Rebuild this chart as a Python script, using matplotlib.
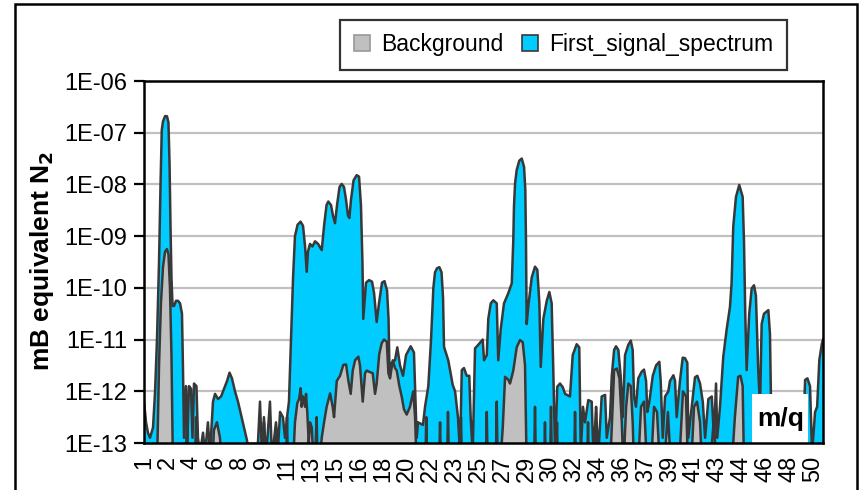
import matplotlib
matplotlib.use("Agg")
import matplotlib.pyplot as plt
from matplotlib.patches import Patch, Rectangle
import numpy as np

plt.rcParams["font.family"] = ["Liberation Sans", "DejaVu Sans"]

# m/q positions and log10 of signal (mB equivalent N2)
signal_mq = [1.00, 1.15, 1.29, 1.44, 1.66, 1.81, 1.95, 2.10, 2.21, 2.30, 2.39, 2.54, 2.68, 2.79, 2.87,
             2.94, 3.01, 3.09, 3.20, 3.34, 3.49, 3.64, 3.78, 3.85, 3.93, 4.07, 4.18, 4.29, 4.44, 4.55,
             4.66, 4.84, 4.95, 5.10, 5.32, 5.47, 5.68, 5.83, 6.05, 6.20, 6.42, 6.64, 6.86, 7.08, 7.26,
             7.44, 7.66, 7.88, 8.10, 8.32, 8.54, 8.69, 8.91, 9.20, 9.34, 9.49, 9.64, 9.78, 9.93, 10.22,
             10.37, 10.66, 10.81, 10.96, 11.17, 11.32, 11.47, 11.61, 11.76, 11.91, 12.05, 12.24, 12.46,
             12.64, 12.79, 12.91, 13.00, 13.15, 13.33, 13.52, 13.74, 14.01, 14.18, 14.36, 14.49, 14.69,
             14.83, 14.98, 15.13, 15.31, 15.47, 15.64, 15.79, 15.93, 16.03, 16.15, 16.34, 16.57, 16.74,
             16.88, 16.99, 17.05, 17.25, 17.47, 17.69, 17.84, 18.03, 18.20, 18.42, 18.60, 18.79, 18.90,
             18.97, 19.12, 19.37, 19.54, 19.74, 19.96, 20.18, 20.52, 20.76, 20.96, 21.06, 21.42, 21.57,
             21.81, 22.01, 22.18, 22.30, 22.45, 22.62, 22.78, 22.89, 22.96, 23.27, 23.60, 23.77, 23.98,
             24.13, 24.26, 24.42, 24.62, 24.81, 24.91, 25.06, 25.23, 25.47, 25.79, 25.89, 26.09, 26.20,
             26.38, 26.57, 26.82, 26.93, 27.11, 27.35, 27.67, 27.92, 28.03, 28.08, 28.16, 28.28, 28.47,
             28.65, 28.82, 28.91, 28.96, 29.01, 29.13, 29.38, 29.62, 29.79, 29.94, 30.04, 30.23, 30.48,
             30.67, 30.84, 30.96, 31.09, 31.25, 31.45, 31.65, 31.82, 32.18, 32.38, 32.67, 32.86, 32.97,
             33.13, 33.28, 33.52, 33.77, 33.89, 34.09, 34.26, 34.50, 34.75, 34.87, 35.11, 35.24, 35.41,
             35.55, 35.72, 35.89, 36.04, 36.21, 36.45, 36.63, 36.77, 36.87, 37.01, 37.18, 37.43, 37.60,
             37.75, 37.84, 37.99, 38.24, 38.48, 38.72, 38.82, 38.97, 39.14, 39.38, 39.50, 39.75, 39.87,
             39.99, 40.23, 40.43, 40.60, 40.77, 40.84, 41.09, 41.33, 41.50, 41.70, 41.90, 42.07, 42.31,
             42.56, 42.72, 42.87, 42.96, 43.16, 43.40, 43.65, 43.89, 44.01, 44.13, 44.33, 44.57, 44.82,
             44.92, 45.01, 45.11, 45.30, 45.48, 45.65, 45.79, 45.96, 46.09, 46.21, 46.38, 46.70, 46.82,
             46.95, 47.19, 49.17, 49.39, 49.56, 49.75, 49.90, 50.12, 50.27, 50.43, 50.61, 50.70]
signal_log = [-12.2, -12.6, -12.8, -12.9, -12.7, -12.0, -11.0, -9.5, -8.0, -6.95, -6.78, -6.68, -6.68, -6.8, -7.6,
              -8.8, -9.8, -10.35, -10.35, -10.25, -10.25, -10.3, -10.5, -11.5, -12.9, -11.9, -12.9, -11.9, -11.95, -12.9,
              -11.85, -11.9, -12.9, -13.2, -12.8, -13.2, -12.6, -13.2, -12.2, -12.05, -12.15, -12.1, -11.95, -11.8, -11.64,
              -11.75, -12.0, -12.2, -12.45, -12.7, -12.95, -13.3, -13.5, -13.5, -13.0, -12.2, -13.3, -12.5, -13.3, -12.2,
              -13.3, -12.6, -13.1, -12.4, -12.5, -12.9, -12.5, -12.2, -11.0, -9.8, -9.0, -8.78, -8.72,
              -8.8, -9.2, -9.69, -9.3, -9.15, -9.2, -9.1, -9.15, -9.27, -8.8, -8.4, -8.33, -8.4,
              -8.6, -8.75, -8.4, -8.05, -7.99, -8.05, -8.3, -8.6, -8.65, -8.3, -7.92, -7.82, -7.85,
              -8.4, -9.5, -10.6, -9.9, -9.85, -9.88, -10.1, -10.66, -10.3, -9.9, -9.87, -10.05, -10.6,
              -11.65, -11.45, -11.4, -11.15, -11.5, -11.7, -11.3, -11.13, -11.25, -12.9, -12.6, -12.65, -12.3,
              -11.9, -11.0, -10.0, -9.7, -9.62, -9.6, -9.7, -10.2, -11.14, -11.4, -11.88, -12.0, -12.5,
              -13.2, -11.59, -11.55, -11.7, -11.7, -12.5, -13.2, -11.17, -11.1, -11.0, -11.4, -11.3, -10.6,
              -10.3, -10.24, -10.3, -11.4, -10.8, -10.3, -10.1, -9.91, -9.08, -8.43, -7.98, -7.72, -7.54,
              -7.5, -7.66, -8.1, -9.1, -10.7, -10.35, -9.8, -9.59, -9.65, -10.3, -11.53, -10.6, -10.25,
              -10.08, -10.3, -11.6, -13.2, -11.91, -11.85, -11.92, -12.05, -12.1, -11.3, -11.09, -11.15, -13.2,
              -12.3, -12.6, -12.17, -12.2, -13.2, -12.4, -13.2, -12.1, -12.07, -12.9, -12.5, -11.7, -11.2,
              -11.13, -11.2, -11.7, -12.5, -11.3, -11.1, -11.02, -11.2, -12.1, -12.3, -11.75, -11.62, -11.58,
              -11.8, -12.4, -12.2, -11.7, -11.5, -11.43, -11.8, -12.9, -12.1, -12.0, -11.8, -11.69, -11.8,
              -12.5, -11.8, -11.35, -11.36, -11.45, -12.9, -12.3, -11.73, -11.7, -11.85, -12.2, -12.9, -12.15,
              -12.1, -12.9, -11.85, -12.9, -12.3, -11.33, -10.8, -10.37, -9.9, -8.82, -8.24, -8.01, -8.24,
              -9.13, -10.5, -11.59, -10.5, -10.01, -9.95, -10.15, -11.59, -12.3, -10.7, -10.5, -10.43, -10.9,
              -13.2, -13.5, -13.5, -11.78, -11.75, -11.9, -13.2, -12.4, -12.3, -11.4, -11.09, -11.0]

background_mq = [1.00, 1.95, 2.10, 2.24, 2.39, 2.54, 2.68, 2.79, 2.90, 3.01, 3.12,
                 4.07, 4.15, 4.22, 4.73, 4.81, 4.88, 5.98, 6.12, 6.34, 6.56, 6.71,
                 9.71, 9.78, 9.86, 10.59, 10.66, 10.74, 11.39, 11.47, 11.54,
                 11.93, 12.05, 12.22, 12.35, 12.47, 12.54, 12.64, 12.79, 12.86, 12.95, 13.06, 13.15,
                 13.28, 13.39, 13.52, 13.64, 13.70, 13.88, 14.01, 14.18, 14.37, 14.62, 14.81, 14.91,
                 15.11, 15.35, 15.59, 15.79, 15.96, 16.13, 16.28, 16.45, 16.69, 16.81, 17.01, 17.18,
                 17.30, 17.54, 17.74, 17.91, 18.03, 18.22, 18.40, 18.57, 18.77, 18.89, 19.01, 19.21,
                 19.37, 19.50, 19.69, 19.86, 20.03, 20.23, 20.47, 20.71, 20.84, 20.96,
                 21.59, 21.66, 21.73, 22.59, 22.67, 22.74, 23.18, 23.25, 23.33, 24.13, 24.20, 24.28,
                 26.02, 26.09, 26.16, 26.75, 26.82, 26.89,
                 27.06, 27.26, 27.43, 27.67, 27.79, 28.03, 28.28, 28.52, 28.72, 28.89, 29.01,
                 29.55, 29.62, 29.69, 30.28, 30.35, 30.42, 30.72, 30.79, 30.86, 31.16, 31.23, 31.30,
                 32.48, 32.55, 32.62, 33.43, 33.50, 33.57, 34.02, 34.09, 34.16,
                 35.11, 35.24, 35.41, 35.61, 35.80, 35.97, 36.09, 36.29, 36.45, 36.63, 36.77, 36.87,
                 37.16, 37.38, 37.60, 37.82, 38.11, 38.33, 38.55, 38.77, 39.06, 39.35, 39.57,
                 40.16, 40.45, 40.67, 40.82, 41.04, 41.26, 41.48, 41.70, 41.85, 42.43, 42.72, 42.87,
                 44.01, 44.25, 44.49, 44.66, 44.82, 44.92, 50.70]
background_log = [-13.5, -13.5, -11.5, -10.3, -9.6, -9.3, -9.25, -9.35, -10.0, -11.3, -13.5,
                  -13.5, -12.2, -13.5, -13.5, -12.5, -13.5, -13.5, -12.75, -12.6, -12.9, -13.5,
                  -13.5, -12.6, -13.5, -13.5, -12.7, -13.5, -13.5, -12.5, -13.5,
                  -13.3, -12.6, -12.23, -12.15, -11.94, -12.3, -12.1, -12.3, -12.05, -12.4, -13.0, -12.6,
                  -12.7, -13.3, -13.3, -12.5, -13.3, -13.3, -12.9, -12.6, -12.3, -12.04, -12.3, -12.5,
                  -11.8, -11.7, -11.49, -11.48, -11.8, -12.05, -11.6, -11.4, -11.33, -11.5, -12.2, -11.65,
                  -11.6, -11.63, -11.65, -12.05, -11.85, -11.28, -11.07, -11.0, -11.04, -11.65, -11.75, -11.4,
                  -11.55, -11.6, -11.9, -12.1, -12.35, -12.45, -12.3, -12.0, -12.5, -13.5,
                  -13.5, -12.5, -13.5, -13.5, -12.6, -13.5, -13.5, -12.4, -13.5, -13.5, -12.5, -13.5,
                  -13.5, -12.4, -13.5, -13.5, -12.2, -13.5,
                  -13.5, -12.7, -11.72, -11.78, -11.85, -11.6, -11.15, -11.01, -11.05, -11.5, -13.5,
                  -13.5, -12.3, -13.5, -13.5, -12.6, -13.5, -13.5, -12.3, -13.5, -13.5, -12.6, -13.5,
                  -13.5, -12.4, -13.5, -13.5, -12.6, -13.5, -13.5, -12.3, -13.5,
                  -13.5, -12.7, -11.59, -11.56, -11.75, -12.6, -13.5, -12.3, -11.85, -11.9, -12.6, -13.5,
                  -13.5, -12.3, -12.2, -13.5, -13.5, -12.3, -12.4, -13.5, -13.5, -12.4, -13.5,
                  -13.5, -12.0, -12.1, -13.5, -13.5, -12.3, -12.2, -12.6, -13.5, -13.5, -12.5, -13.5,
                  -13.5, -12.5, -11.72, -11.7, -11.9, -13.5, -13.5]

y_ticks = [1e-13, 1e-12, 1e-11, 1e-10, 1e-9, 1e-8, 1e-7, 1e-6]
y_labels = ["1E-13", "1E-12", "1E-11", "1E-10", "1E-09", "1E-08", "1E-07", "1E-06"]
x_ticks = [1 + 1.75 * k for k in range(29)]
x_labels = ["1", "2", "4", "6", "8", "9", "11", "13", "15", "16", "18", "20", "22", "23", "25",
            "27", "29", "30", "32", "34", "36", "37", "39", "41", "43", "44", "46", "48", "50"]

fig = plt.figure(figsize=(8.65, 4.9), dpi=100)
ax = fig.add_axes([144 / 865, 47 / 490, 679 / 865, 362 / 490])

line_col = "#383838"
blue = "#00CCFF"
grey = "#C0C0C0"

sig = 10 ** np.array(signal_log)
bg = 10 ** np.array(background_log)

ax.fill_between(signal_mq, sig, 1e-15, color=blue, lw=0, zorder=2)
ax.plot(signal_mq, sig, color=line_col, lw=1.8, zorder=3, solid_joinstyle="round")
ax.fill_between(background_mq, bg, 1e-15, color=grey, lw=0, zorder=4)
ax.plot(background_mq, bg, color=line_col, lw=1.8, zorder=5, solid_joinstyle="round")

ax.set_yscale("log")
ax.set_ylim(1e-13, 1e-6)
ax.set_xlim(1, 50.70)
ax.yaxis.set_major_locator(matplotlib.ticker.FixedLocator(y_ticks))
ax.yaxis.set_minor_locator(matplotlib.ticker.NullLocator())
ax.set_yticklabels(y_labels)
ax.set_xticks(x_ticks)
ax.set_xticklabels(x_labels, rotation=90)
ax.tick_params(axis="y", direction="out", length=7, width=1.6, labelsize=17, pad=5)
ax.tick_params(axis="x", length=0, labelsize=17, pad=9)
ax.grid(axis="y", color="#C0C0C0", lw=1.6, zorder=1)
ax.set_axisbelow(True)
for s in ax.spines.values():
    s.set_linewidth(1.8)
    s.set_color("black")
    s.set_zorder(10)

# white patch behind the axis title m/q
ax.add_patch(Rectangle((0.895, 0.0), 0.083, 0.135, transform=ax.transAxes,
                       facecolor="white", edgecolor="none", zorder=8))
ax.text(0.937, 0.066, "m/q", transform=ax.transAxes, ha="center", va="center",
        fontsize=19, fontweight="bold", zorder=9)

fig.text(42 / 865, 1 - 261 / 490, "mB equivalent N$_\\mathbf{2}$", rotation=90,
         ha="center", va="center", fontsize=19, fontweight="bold")

handles = [Patch(facecolor=grey, edgecolor="#999999", lw=1.2, label="Background"),
           Patch(facecolor=blue, edgecolor=line_col, lw=1.2, label="First_signal_spectrum")]
leg = fig.legend(handles=handles, loc="center", bbox_to_anchor=(563.5 / 865, 1 - 45 / 490),
                 ncol=2, fontsize=16.5, frameon=True, fancybox=False, handlelength=0.7,
                 handleheight=0.7, handletextpad=0.5, columnspacing=0.8, borderpad=0.6)
leg.get_frame().set_edgecolor("black")
leg.get_frame().set_linewidth(1.6)

fig.add_artist(Rectangle((15 / 865, -0.05), 842 / 865, 1.05 - 4 / 490, transform=fig.transFigure,
                         facecolor="none", edgecolor="black", lw=1.8))

fig.savefig("out.png", dpi=100)
